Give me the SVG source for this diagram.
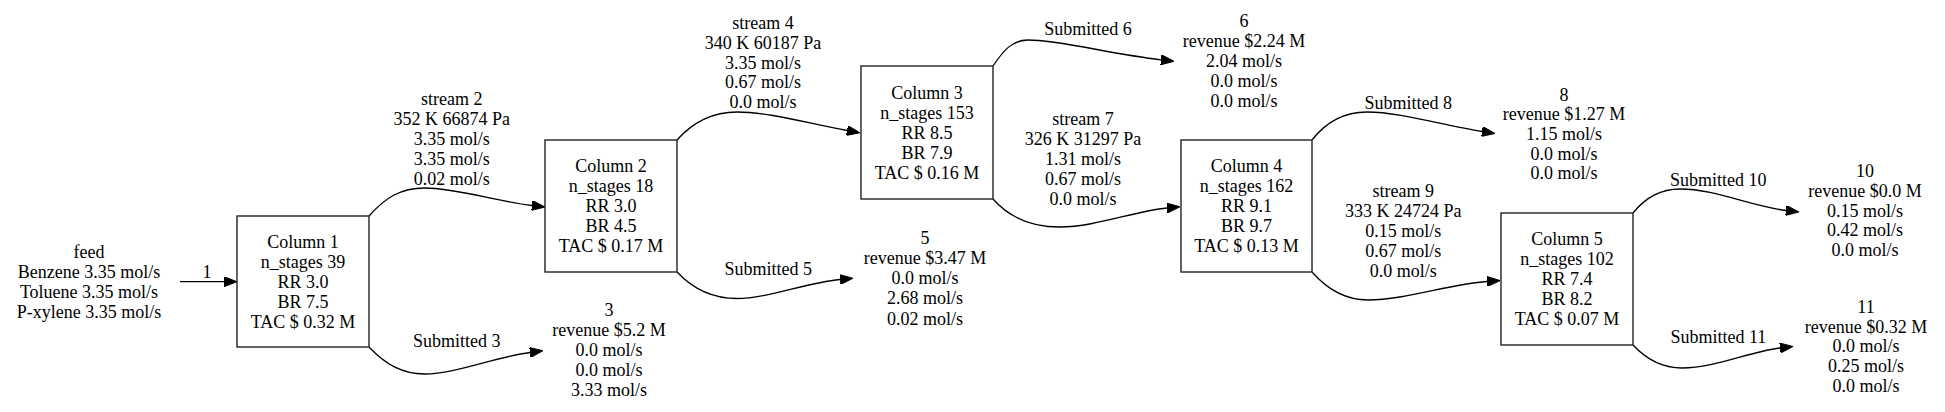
<svg xmlns="http://www.w3.org/2000/svg" width="1945" height="412" viewBox="0 0 1945 412" font-family="Liberation Serif, Times New Roman, serif" font-size="18" text-anchor="middle">
<style>
.box{fill:#fff;stroke:#222;stroke-width:1.4}
.edge{fill:none;stroke:#000;stroke-width:1.3}
</style>
<defs>
<marker id="arr" markerUnits="userSpaceOnUse" viewBox="0 0 13 10" refX="0" refY="5" markerWidth="13" markerHeight="10" orient="auto">
<path d="M0,0 L13,5 L0,10 z" fill="#000" stroke="#000" stroke-width="1"/>
</marker>
</defs>
<rect width="1945" height="412" fill="#fff"/>

<g id="connectors">
<path class="edge" marker-end="url(#arr)" d="M180,281.7 L224,281.7"/>
<path class="edge" marker-end="url(#arr)" d="M369,216 C385,198 400,188 425,188 C455,188 495,201 532,205.5"/>
<path class="edge" marker-end="url(#arr)" d="M677,140 C693,122 712,112 737,112 C770,112 810,124 847,130.5"/>
<path class="edge" marker-end="url(#arr)" d="M369,347 C385,364 402,374 425,374 C455,374 495,357 530,352.5"/>
<path class="edge" marker-end="url(#arr)" d="M677,272 C693,289 712,298.5 737,298.5 C767,298.5 805,283 840,279.5"/>
<path class="edge" marker-end="url(#arr)" d="M993,66 C1003,51 1012,40 1028,40 C1060,40 1110,54 1161,59.8"/>
<path class="edge" marker-end="url(#arr)" d="M993,199 C1008,216 1030,227 1060,227 C1095,227 1135,211 1167,208"/>
<path class="edge" marker-end="url(#arr)" d="M1312,140 C1326,122 1344,112 1367,112 C1400,112 1445,126 1482,131.5"/>
<path class="edge" marker-end="url(#arr)" d="M1312,272 C1327,289 1345,300 1368,300 C1405,300 1450,284 1487,281.5"/>
<path class="edge" marker-end="url(#arr)" d="M1633,213 C1645,198 1660,189 1680,189 C1715,189 1750,206 1786,210.5"/>
<path class="edge" marker-end="url(#arr)" d="M1633,345 C1647,360 1662,368 1682,368 C1715,368 1748,352 1780,348"/>
<text x="207" y="278">1</text>
<text x="451.7"><tspan x="451.7" y="104.6">stream 2</tspan><tspan x="451.7" y="124.6">352 K 66874 Pa</tspan><tspan x="451.7" y="144.6">3.35 mol/s</tspan><tspan x="451.7" y="164.6">3.35 mol/s</tspan><tspan x="451.7" y="184.6">0.02 mol/s</tspan></text>
<text x="763"><tspan x="763" y="29">stream 4</tspan><tspan x="763" y="48.8">340 K 60187 Pa</tspan><tspan x="763" y="68.5">3.35 mol/s</tspan><tspan x="763" y="88.3">0.67 mol/s</tspan><tspan x="763" y="108">0.0 mol/s</tspan></text>
<text x="456.7" y="347.3">Submitted 3</text>
<text x="768.3" y="274.6">Submitted 5</text>
<text x="1088" y="34.6">Submitted 6</text>
<text x="1083"><tspan x="1083" y="124.6">stream 7</tspan><tspan x="1083" y="144.6">326 K 31297 Pa</tspan><tspan x="1083" y="164.6">1.31 mol/s</tspan><tspan x="1083" y="184.6">0.67 mol/s</tspan><tspan x="1083" y="204.6">0.0 mol/s</tspan></text>
<text x="1408.3" y="109">Submitted 8</text>
<text x="1403.3"><tspan x="1403.3" y="197.3">stream 9</tspan><tspan x="1403.3" y="217.2">333 K 24724 Pa</tspan><tspan x="1403.3" y="237.1">0.15 mol/s</tspan><tspan x="1403.3" y="257">0.67 mol/s</tspan><tspan x="1403.3" y="277">0.0 mol/s</tspan></text>
<text x="1718.3" y="185.6">Submitted 10</text>
<text x="1718.3" y="343">Submitted 11</text>
</g>

<g id="feed">
<text x="89"><tspan x="89" y="258">feed</tspan><tspan x="89" y="278">Benzene 3.35 mol/s</tspan><tspan x="89" y="298">Toluene 3.35 mol/s</tspan><tspan x="89" y="318">P-xylene 3.35 mol/s</tspan></text>
</g>

<g id="column1">
<rect class="box" x="237" y="216" width="132" height="131"/>
<text x="303"><tspan x="303" y="248">Column 1</tspan><tspan x="303" y="268">n_stages 39</tspan><tspan x="303" y="288">RR 3.0</tspan><tspan x="303" y="308">BR 7.5</tspan><tspan x="303" y="328">TAC $ 0.32 M</tspan></text>
</g>

<g id="column2">
<rect class="box" x="545" y="140" width="132" height="132"/>
<text x="611"><tspan x="611" y="172">Column 2</tspan><tspan x="611" y="192">n_stages 18</tspan><tspan x="611" y="212">RR 3.0</tspan><tspan x="611" y="232">BR 4.5</tspan><tspan x="611" y="252">TAC $ 0.17 M</tspan></text>
</g>

<g id="column3">
<rect class="box" x="861" y="66" width="132" height="133"/>
<text x="927"><tspan x="927" y="98.8">Column 3</tspan><tspan x="927" y="118.8">n_stages 153</tspan><tspan x="927" y="138.8">RR 8.5</tspan><tspan x="927" y="158.8">BR 7.9</tspan><tspan x="927" y="178.8">TAC $ 0.16 M</tspan></text>
</g>

<g id="column4">
<rect class="box" x="1181" y="140" width="131" height="132"/>
<text x="1246.5"><tspan x="1246.5" y="172">Column 4</tspan><tspan x="1246.5" y="192">n_stages 162</tspan><tspan x="1246.5" y="212">RR 9.1</tspan><tspan x="1246.5" y="232">BR 9.7</tspan><tspan x="1246.5" y="252">TAC $ 0.13 M</tspan></text>
</g>

<g id="column5">
<rect class="box" x="1501" y="213" width="132" height="132"/>
<text x="1567"><tspan x="1567" y="245">Column 5</tspan><tspan x="1567" y="265">n_stages 102</tspan><tspan x="1567" y="285">RR 7.4</tspan><tspan x="1567" y="305">BR 8.2</tspan><tspan x="1567" y="325">TAC $ 0.07 M</tspan></text>
</g>

<g id="product3">
<text x="609"><tspan x="609" y="316.3">3</tspan><tspan x="609" y="336.2">revenue $5.2 M</tspan><tspan x="609" y="356.1">0.0 mol/s</tspan><tspan x="609" y="376">0.0 mol/s</tspan><tspan x="609" y="396">3.33 mol/s</tspan></text>
</g>

<g id="product5">
<text x="925"><tspan x="925" y="244">5</tspan><tspan x="925" y="264">revenue $3.47 M</tspan><tspan x="925" y="284.2">0.0 mol/s</tspan><tspan x="925" y="304.4">2.68 mol/s</tspan><tspan x="925" y="324.5">0.02 mol/s</tspan></text>
</g>

<g id="product6">
<text x="1244"><tspan x="1244" y="27">6</tspan><tspan x="1244" y="47">revenue $2.24 M</tspan><tspan x="1244" y="67">2.04 mol/s</tspan><tspan x="1244" y="86.8">0.0 mol/s</tspan><tspan x="1244" y="106.5">0.0 mol/s</tspan></text>
</g>

<g id="product8">
<text x="1564"><tspan x="1564" y="100.6">8</tspan><tspan x="1564" y="120.4">revenue $1.27 M</tspan><tspan x="1564" y="140.2">1.15 mol/s</tspan><tspan x="1564" y="159.8">0.0 mol/s</tspan><tspan x="1564" y="179.2">0.0 mol/s</tspan></text>
</g>

<g id="product10">
<text x="1865"><tspan x="1865" y="177">10</tspan><tspan x="1865" y="196.8">revenue $0.0 M</tspan><tspan x="1865" y="216.6">0.15 mol/s</tspan><tspan x="1865" y="236.4">0.42 mol/s</tspan><tspan x="1865" y="256.2">0.0 mol/s</tspan></text>
</g>

<g id="product11">
<text x="1866"><tspan x="1866" y="313">11</tspan><tspan x="1866" y="332.6">revenue $0.32 M</tspan><tspan x="1866" y="352.3">0.0 mol/s</tspan><tspan x="1866" y="372">0.25 mol/s</tspan><tspan x="1866" y="391.6">0.0 mol/s</tspan></text>
</g>
</svg>
